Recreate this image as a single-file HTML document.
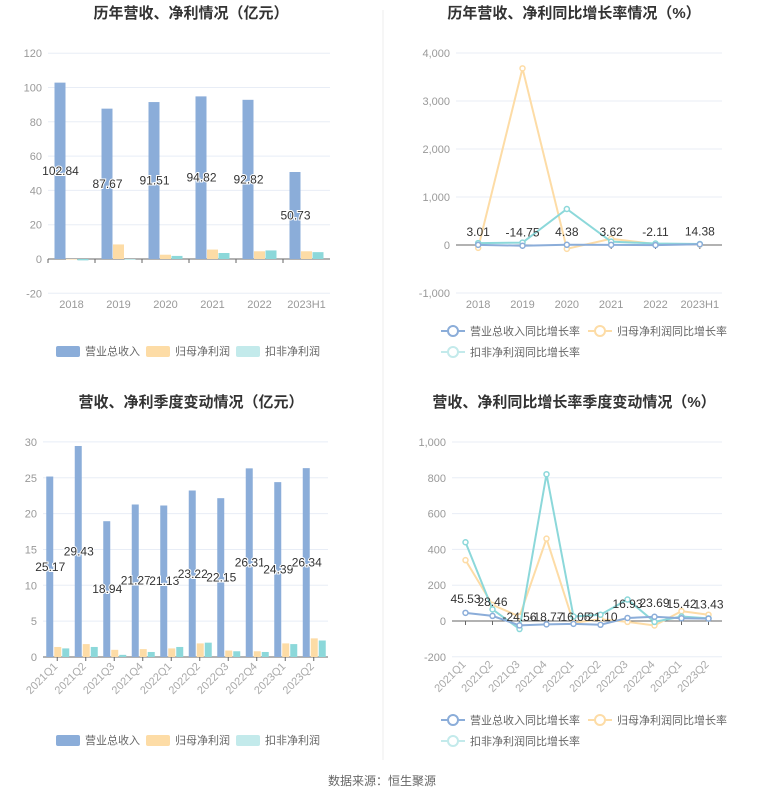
<!DOCTYPE html>
<html><head><meta charset="utf-8"><style>
body{margin:0;background:#fff;width:765px;height:801px;overflow:hidden;font-family:"Liberation Sans","Noto Sans CJK SC",sans-serif}
</style></head><body>
<svg id="s" width="765" height="801" xmlns="http://www.w3.org/2000/svg" font-family="Liberation Sans, Noto Sans CJK SC, sans-serif"></svg>
<script>
var o='';
function t(x,y,s,a,sz,c,extra){o+='<text x="'+x+'" y="'+y+'" font-size="'+sz+'" fill="'+c+'" text-anchor="'+a+'" '+(extra||'')+'>'+s+'</text>';}
function l(x1,y1,x2,y2,c,w){o+='<line x1="'+x1+'" y1="'+y1+'" x2="'+x2+'" y2="'+y2+'" stroke="'+c+'" stroke-width="'+(w||1)+'"/>';}
function r(x,y,w,h,c){if(h<0){y+=h;h=-h;}o+='<rect x="'+x+'" y="'+y+'" width="'+w+'" height="'+h+'" fill="'+c+'"/>';}
var B='#8badd9',O='#fddca6',C='#8cd8da',G='#999',GL='#e8edf6';
l(383,10,383,760,'#eee');
// titles
t(191,18,'历年营收、净利情况（亿元）','middle',15,'#333','font-weight="bold"');
t(574,18,'历年营收、净利同比增长率情况（%）','middle',15,'#333','font-weight="bold"');
t(191,407,'营收、净利季度变动情况（亿元）','middle',15,'#333','font-weight="bold"');
t(574,407,'营收、净利同比增长率季度变动情况（%）','middle',15,'#333','font-weight="bold"');
// chart1
(function(){var x0=48,x1=330,y0=259,k=34.3/20;
[120,100,80,60,40,20,0,-20].forEach(function(v){var y=y0-v*k;l(x0,y,x1,y,v==0?'#666':GL);t(x0-6,y+4,v,'end',11,G);});
var cats=['2018','2019','2020','2021','2022','2023H1'],R=[102.84,87.67,91.51,94.82,92.82,50.73],P=[-0.3,8.5,2.5,5.5,4.5,4.5],Q=[-0.8,-0.3,1.8,3.5,5,4];
var bw=(x1-x0)/6;cats.forEach(function(c,i){var cx=x0+bw*(i+.5);
r(cx-17,y0,11,-R[i]*k,B);r(cx-5.5,y0,11,-P[i]*k,O);r(cx+6,y0,11,-Q[i]*k,C);
t(cx,y0+49,c,'middle',11,G);l(x0+bw*i,y0,x0+bw*i,y0+4,'#666');
t(cx-11,y0-R[i]*k/2+4,R[i].toFixed(2),'middle',12,'#333','stroke="#fff" stroke-width="2" paint-order="stroke"');});
})();
// legend helper
function leg(y,items,xs){items.forEach(function(it,i){o+='<rect x="'+xs[i]+'" y="'+(y-5)+'" width="24" height="11" rx="2" fill="'+it[1]+'"/>';t(xs[i]+29,y+4,it[0],'start',11,'#666');});}
leg(351,[['营业总收入',B],['归母净利润',O],['扣非净利润','#c3eaeb']],[56,146,236]);
leg(740,[['营业总收入',B],['归母净利润',O],['扣非净利润','#c3eaeb']],[56,146,236]);
function lleg(y){var its=[['营业总收入同比增长率',B,441,y],['归母净利润同比增长率',O,588,y],['扣非净利润同比增长率',C,441,y+21]];
its.forEach(function(it){var c=it[1]=='#8cd8da'?'#c3eaeb':it[1];l(it[2],it[3],it[2]+24,it[3],c,2);o+='<circle cx="'+(it[2]+12)+'" cy="'+it[3]+'" r="5" fill="#fff" stroke="'+c+'" stroke-width="2"/>';t(it[2]+29,it[3]+4,it[0],'start',11,'#666');});}
lleg(331);lleg(720);
function line(xs,vals,y0,k,c){var p=xs.map(function(x,i){return x+','+(y0-vals[i]*k)}).join(' ');o+='<polyline points="'+p+'" fill="none" stroke="'+c+'" stroke-width="2"/>';xs.forEach(function(x,i){o+='<circle cx="'+x+'" cy="'+(y0-vals[i]*k)+'" r="2.5" fill="#fff" stroke="'+c+'" stroke-width="1.5"/>';});}
// chart2
(function(){var x0=456,x1=722,y0=245,k=0.048;
[4000,3000,2000,1000,0,-1000].forEach(function(v){var y=y0-v*k;l(x0,y,x1,y,v==0?'#666':GL);t(x0-6,y+4,v.toLocaleString('en-US'),'end',11,G);});
var cats=['2018','2019','2020','2021','2022','2023H1'],bw=(x1-x0)/6,xs=cats.map(function(c,i){return x0+bw*(i+.5)});
cats.forEach(function(c,i){t(xs[i],y0+63,c,'middle',11,G);l(xs[i],y0,xs[i],y0+4,'#666');});
var R=[3.01,-14.75,4.38,3.62,-2.11,14.38];
line(xs,[-60,3680,-80,130,20,10],y0,k,O);line(xs,[40,50,750,70,30,20],y0,k,C);line(xs,R,y0,k,B);
R.forEach(function(v,i){t(xs[i],y0-v*k-9,v.toFixed(2),'middle',12,'#333');});
})();
// chart3
(function(){var x0=43,x1=328,y0=657,k=7.17;
[30,25,20,15,10,5,0].forEach(function(v){var y=y0-v*k;l(x0,y,x1,y,v==0?'#666':GL);t(x0-6,y+4,v,'end',11,G);});
var cats=['2021Q1','2021Q2','2021Q3','2021Q4','2022Q1','2022Q2','2022Q3','2022Q4','2023Q1','2023Q2'],
R=[25.17,29.43,18.94,21.27,21.13,23.22,22.15,26.31,24.39,26.34],P=[1.4,1.8,1.0,1.1,1.2,1.9,0.9,0.8,1.9,2.6],Q=[1.2,1.4,0.3,0.7,1.4,2.0,0.8,0.7,1.8,2.3];
var bw=(x1-x0)/10;cats.forEach(function(c,i){var cx=x0+bw*(i+.5);
r(cx-11,y0,7,-R[i]*k,B);r(cx-3,y0,7,-P[i]*k,O);r(cx+5,y0,7,-Q[i]*k,C);
l(cx,y0,cx,y0+4,'#666');t(cx+1,y0+10,c,'end',11,'#aaa','transform="rotate(-45 '+(cx+1)+' '+(y0+10)+')"');
t(cx-7,y0-R[i]*k/2+4,R[i].toFixed(2),'middle',12,'#333','stroke="#fff" stroke-width="2" paint-order="stroke"');});
})();
// chart4
(function(){var x0=452,x1=722,y0=621,k=0.179;
[1000,800,600,400,200,0,-200].forEach(function(v){var y=y0-v*k;l(x0,y,x1,y,v==0?'#666':GL);t(x0-6,y+4,v.toLocaleString('en-US'),'end',11,G);});
var cats=['2021Q1','2021Q2','2021Q3','2021Q4','2022Q1','2022Q2','2022Q3','2022Q4','2023Q1','2023Q2'],bw=(x1-x0)/10,xs=cats.map(function(c,i){return x0+bw*(i+.5)});
cats.forEach(function(c,i){l(xs[i],y0,xs[i],y0+4,'#666');t(xs[i]+1,y0+44,c,'end',11,'#aaa','transform="rotate(-45 '+(xs[i]+1)+' '+(y0+44)+')"');});
var R=[45.53,28.46,-24.56,-18.77,-16.05,-21.10,16.93,23.69,15.42,13.43];
line(xs,[340,90,25,460,-10,10,-5,-25,55,35],y0,k,O);line(xs,[440,65,-45,820,25,35,120,-5,25,15],y0,k,C);line(xs,R,y0,k,B);
var ly=[604,609,626,624,623,625,608,604,606,606];
R.forEach(function(v,i){t(xs[i],y0-Math.max(v,0)*k-(i>=2&&i<=5?0:10),v.toFixed(2),'middle',12,'#333');});
})();
t(382,785,'数据来源：恒生聚源','middle',12,'#666');
document.getElementById('s').innerHTML=o;
</script>
</body></html>
